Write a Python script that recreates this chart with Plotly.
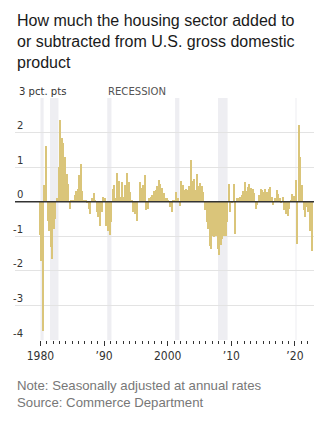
import plotly.graph_objects as go

# Quarterly contribution of residential investment to real GDP growth,
# percentage points at seasonally adjusted annual rates.
# Series begins with 1979 Q4 and runs through 2022 Q3.
vals_1979_1989 = [
    -0.95,
    -1.72, -3.75, 0.47, 1.60,
    -0.55, -0.85, -1.30, -1.65,
    -0.80, -0.50, 0.10, 1.00,
    2.35, 1.85, 1.70, 1.30,
    0.80, 0.50, -0.20, 0.05,
    0.05, 0.20, 0.30, 0.38,
    0.77, 1.10, 0.30, 0.05,
    0.05, -0.05, -0.20, -0.35,
    0.10, 0.25, 0.05, -0.30,
    -0.45, -0.70, -0.30, 0.14,
]
vals_1990s = [
    0.10, -0.70, -0.85, -0.95,
    -0.60, 0.38, 0.48, 0.10,
    0.82, 0.60, 0.14, 0.57,
    0.15, 0.48, 0.82, 0.57,
    0.28, 0.05, -0.30, -0.35,
    -0.55, 0.00, 0.57, 0.40,
    0.48, 0.77, -0.25, -0.20,
    0.10, 0.15, 0.20, 0.30,
    0.35, 0.45, 0.62, 0.50,
    0.40, 0.25, 0.10, 0.10,
]
vals_2000s = [
    0.05, -0.15, -0.30, 0.05,
    0.05, 0.28, 0.10, -0.13,
    0.60, 0.48, 0.35, 0.38,
    0.33, 0.45, 1.20, 0.60,
    0.65, 0.35, 0.80, 0.45,
    0.55, 0.45, 0.28, -0.25,
    -0.60, -0.80, -1.27, -1.37,
    -1.00, -1.03, -0.98, -1.37,
    -1.55, -1.25, -1.08, -1.00,
    -0.98, -0.60, 0.52, -0.30,
]
vals_2010s = [
    -0.05, 0.52, -0.93, 0.10,
    0.10, 0.15, 0.20, 0.30,
    0.57, 0.30, 0.43, 0.52,
    0.40, 0.38, 0.25, -0.20,
    -0.10, 0.20, 0.38, 0.35,
    0.28, 0.38, 0.28, 0.38,
    0.43, 0.15, -0.10, 0.10,
    0.33, 0.23, 0.10, -0.05,
    0.15, -0.25, -0.35, -0.40,
    -0.20, 0.05, 0.23, 0.16,
]
vals_2020s = [
    0.62, -1.22, 2.22, 1.30,
    0.48, -0.25, -0.45, -0.15,
    -0.30, -0.85, -1.42,
]

first_quarter = 1979.75  # 1979 Q4

# NBER recessions (peak month, trough month) as decimal years
rec_start = [1980 + 0 / 12, 1981 + 6 / 12, 1990 + 6 / 12, 2001 + 2 / 12, 2007 + 11 / 12, 2020 + 1 / 12]
rec_end = [1980 + 6 / 12, 1982 + 10 / 12, 1991 + 2 / 12, 2001 + 10 / 12, 2009 + 5 / 12, 2020 + 3 / 12]

y_ticks = [3, 2, 1, 0, -1, -2, -3, -4]
y_tick_text = ["3 pct. pts", "2", "1", "0", "-1", "-2", "-3", "-4"]
x_ticks = [1980, 1990, 2000, 2010, 2020]
x_tick_text = ["1980", "\u201990", "2000", "\u201910", "\u201920"]

values = vals_1979_1989 + vals_1990s + vals_2000s + vals_2010s + vals_2020s
dates = [first_quarter + 0.125 + 0.25 * i for i in range(len(values))]

W, H = 331, 421
L, R, T, B = 15, 17, 98, 81
plot_w = W - L - R
plot_h = H - T - B

def px_x(px):
    return (px - L) / plot_w

def px_y(py):
    return (H - B - py) / plot_h

NARROW = "Liberation Sans Narrow, DejaVu Sans Condensed, Arial Narrow, sans-serif"
SANS = "Liberation Sans, Arial, Helvetica, sans-serif"
LABEL_SIZE = 11.2

fig = go.Figure()
fig.add_trace(go.Bar(
    x=dates, y=values,
    width=0.19,
    marker=dict(color="#dac57a", line=dict(width=0)),
    hoverinfo="skip",
))

shapes = []
for s, e in zip(rec_start, rec_end):
    shapes.append(dict(type="rect", xref="x", yref="paper", x0=s, x1=e, y0=0, y1=1,
                       fillcolor="#eeeef2", line=dict(width=0), layer="below"))
shapes.append(dict(type="line", xref="paper", yref="y", x0=0, x1=1, y0=0, y1=0,
                   line=dict(color="#333333", width=1.5), layer="above"))

annotations = []
for v, t in zip(y_ticks, y_tick_text):
    if v == y_ticks[0]:
        annotations.append(dict(x=px_x(17), xref="paper", y=v, yref="y", text=t,
                                xanchor="left", yanchor="middle", yshift=7, showarrow=False,
                                font=dict(family=NARROW, size=LABEL_SIZE, color="#333333")))
    else:
        annotations.append(dict(x=px_x(25), xref="paper", y=v, yref="y", text=t,
                                xanchor="right", yanchor="middle", yshift=7, showarrow=False,
                                font=dict(family=NARROW, size=LABEL_SIZE, color="#333333")))
annotations.append(dict(x=rec_start[2], xref="x", y=y_ticks[0], yref="y", text="RECESSION",
                        xanchor="left", yanchor="middle", yshift=7, xshift=-1, showarrow=False,
                        font=dict(family=NARROW, size=LABEL_SIZE, color="#555555")))
annotations.append(dict(x=px_x(15), xref="paper", y=px_y(10), yref="paper", align="left",
                        text="How much the housing sector added to<br>or subtracted from U.S. gross domestic<br>product",
                        xanchor="left", yanchor="top", showarrow=False,
                        font=dict(family=SANS, size=16, color="#1a1a1a")))
annotations.append(dict(x=px_x(15), xref="paper", y=px_y(394), yref="paper", align="left",
                        text="Note: Seasonally adjusted at annual rates<br>Source: Commerce Department",
                        xanchor="left", yanchor="middle", showarrow=False,
                        font=dict(family=SANS, size=13.2, color="#777777")))

fig.update_layout(
    width=W, height=H,
    margin=dict(l=L, r=R, t=T, b=B, pad=0),
    paper_bgcolor="white", plot_bgcolor="white",
    showlegend=False, bargap=0,
    shapes=shapes, annotations=annotations,
    xaxis=dict(range=[1976, 2023], tickmode="array", tickvals=x_ticks, ticktext=x_tick_text,
               ticks="outside", ticklen=5, tickwidth=1, tickcolor="#333333",
               showgrid=False, zeroline=False, showline=False,
               tickfont=dict(family=NARROW, size=12, color="#333333"),
               minor=dict(tickmode="array", tickvals=[y for y in range(1980, 2023) if y % 10],
                          ticks="outside", ticklen=2.5, tickwidth=1, tickcolor="#333333",
                          showgrid=False)),
    yaxis=dict(range=[-4, 3], tickmode="array", tickvals=y_ticks, showticklabels=False,
               showgrid=True, gridcolor="#e3e3e3", gridwidth=1, zeroline=False,
               showline=False, ticks=""),
)

fig.write_html("out.html")
